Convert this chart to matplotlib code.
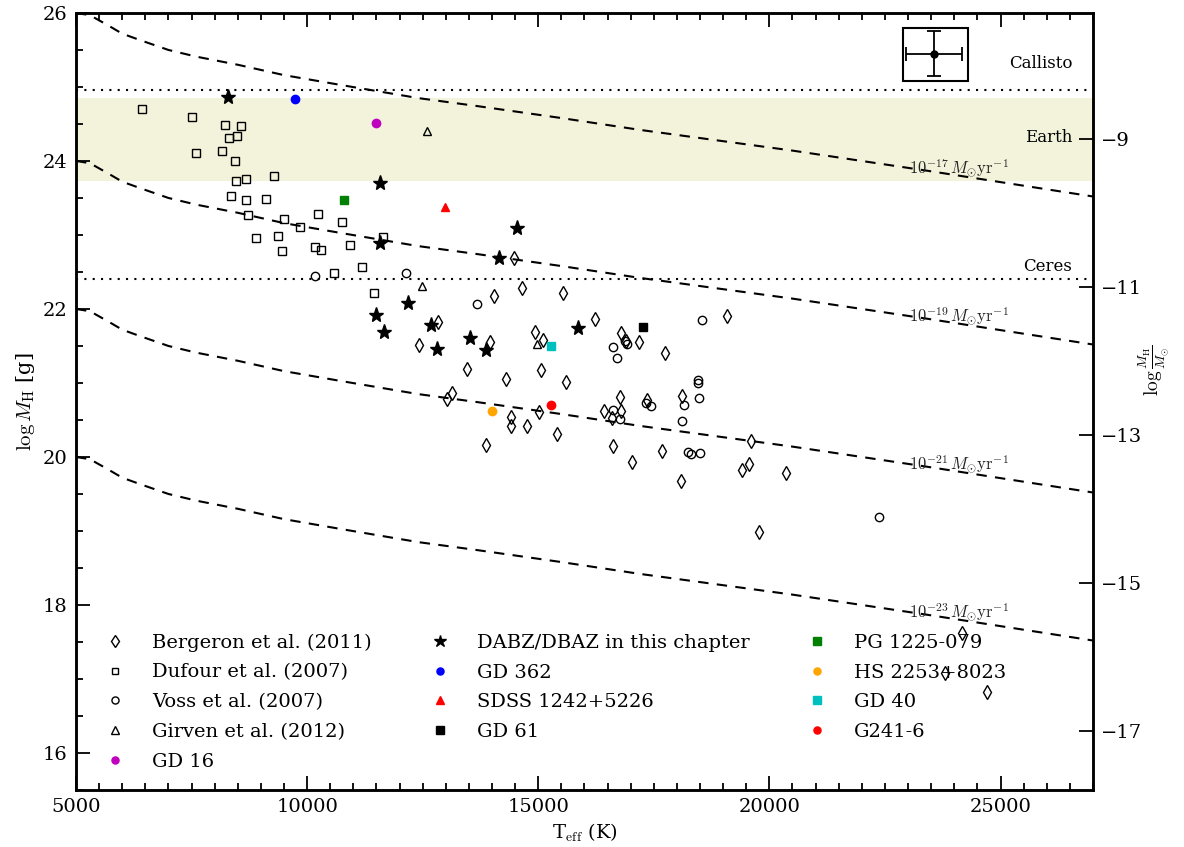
import matplotlib
matplotlib.use("Agg")
import matplotlib.pyplot as plt
import numpy as np
from matplotlib.patches import Rectangle
from matplotlib.ticker import MultipleLocator, FixedLocator

plt.rcParams['font.family'] = ['DejaVu Serif']
plt.rcParams['mathtext.fontset'] = 'cm'

LOG_MSUN = 33.3  # log10 of the solar mass in grams

# Bergeron et al. (2011)
berg_teff = [14480, 14640, 14040, 15530, 12830, 16220, 19080, 12430, 13960, 14920,
             15100, 16790, 16900, 17180, 17750, 13450, 15050, 14300, 15590, 13130,
             13020, 16770, 18110, 14420, 14400, 14760, 15400, 15010, 16430, 16790,
             16590, 17360, 13860, 16610, 19600, 17020, 17680, 18090, 19410, 19550,
             20350, 19770, 24160, 23810, 24700]
berg_logm = [22.69, 22.28, 22.18, 22.21, 21.82, 21.86, 21.90, 21.51, 21.55, 21.69,
             21.58, 21.68, 21.57, 21.55, 21.40, 21.19, 21.17, 21.05, 21.01, 20.87,
             20.78, 20.81, 20.82, 20.54, 20.42, 20.42, 20.31, 20.61, 20.62, 20.62,
             20.53, 20.77, 20.16, 20.15, 20.21, 19.93, 20.08, 19.67, 19.82, 19.90,
             19.78, 18.99, 17.62, 17.08, 16.82]

# Dufour et al. (2007)
dufour_teff = [6430, 7500, 8220, 8560, 8300, 8480, 7590, 8160, 8430, 8460,
               8670, 9280, 8360, 8670, 9120, 8730, 9510, 9850, 10230, 10750,
               8890, 9380, 9450, 10180, 10310, 10930, 11180, 10590, 11640, 11440]
dufour_logm = [24.70, 24.60, 24.48, 24.47, 24.31, 24.34, 24.11, 24.13, 24.00, 23.73,
               23.76, 23.80, 23.52, 23.47, 23.48, 23.27, 23.22, 23.11, 23.29, 23.18,
               22.96, 22.98, 22.78, 22.84, 22.80, 22.87, 22.57, 22.49, 22.97, 22.21]

# Voss et al. (2007)
voss_teff = [10180, 12130, 13680, 16620, 16710, 16880, 16910, 18550, 18450, 18460,
             18470, 17330, 17440, 18150, 18120, 16610, 16760, 18230, 18310, 18500,
             22380]
voss_logm = [22.44, 22.49, 22.07, 21.49, 21.34, 21.57, 21.53, 21.85, 21.04, 21.00,
             20.80, 20.73, 20.69, 20.70, 20.49, 20.63, 20.51, 20.07, 20.04, 20.06,
             19.19]

# Girven et al. (2012)
girven_teff = [12590, 12490, 14980]
girven_logm = [24.41, 22.31, 21.53]

# DABZ/DBAZ in this chapter
dabz_teff = [8290, 11570, 11570, 14540, 14140, 12190, 11480, 11670, 12670, 12820,
             13520, 13880, 15860]
dabz_logm = [24.87, 23.70, 22.89, 23.09, 22.69, 22.08, 21.92, 21.69, 21.79, 21.46,
             21.61, 21.44, 21.74]

# Individual objects: name, Teff, log M_H
single_names = ['GD 16', 'GD 362', 'SDSS 1242+5226', 'GD 61',
                'PG 1225-079', 'HS 2253+8023', 'GD 40', 'G241-6']
single_teff = [11490, 9730, 12990, 17260, 10790, 13990, 15280, 15280]
single_logm = [24.51, 24.84, 23.38, 21.76, 23.47, 20.62, 21.50, 20.70]
single_marker = ['o', 'o', '^', 's', 's', 'o', 's', 'o']
single_color = ['m', 'b', 'r', 'k', 'g', 'orange', 'c', 'r']

# Hydrogen mass accreted at 1e-17 Msun/yr as a function of Teff
curve_teff = [5000, 5300, 5700, 6000, 6400, 7000, 7600, 8500, 9500, 10700,
              12400, 13700, 15500, 17200, 20500, 23500, 27000]
curve_logm = [26.00, 25.97, 25.83, 25.72, 25.63, 25.50, 25.41, 25.30, 25.16, 25.03,
              24.85, 24.74, 24.58, 24.42, 24.14, 23.86, 23.52]
rate_exponents = [-17, -19, -21, -23]

# Reference hydrogen masses
callisto_logm = 24.96
ceres_logm = 22.41
earth_band = (23.73, 24.85)

# Typical uncertainty
err_teff, err_logm = 23560, 25.45
err_dteff, err_dlogm = 600, 0.30

fig = plt.figure(figsize=(11.84, 8.47), dpi=100)
ax = fig.add_axes([0.0642, 0.0673, 0.8589, 0.9174])
ax.set_xlim(5000, 27000)
ax.set_ylim(15.5, 26)

ax.axhspan(earth_band[0], earth_band[1], color='#f3f3dc', lw=0, zorder=0)
for lv in (callisto_logm, ceres_logm):
    ax.axhline(lv, color='k', ls=(0, (1, 3)), lw=1.5, zorder=1)

ct = np.array(curve_teff, dtype=float)
cm = np.array(curve_logm)
for r in rate_exponents:
    off = r + 17
    ax.plot(ct, cm + off, color='k', ls=(0, (5, 4)), lw=1.5, zorder=1)
    ty = np.interp(23020, ct, cm) + off - 0.07
    ax.text(23020, ty, r'$10^{%d}\,M_{\odot}{\rm yr}^{-1}$' % r,
            fontsize=12, ha='left', va='baseline', color='#222222', zorder=2)

ax.text(26550, 25.32, 'Callisto', ha='right', va='center', fontsize=12)
ax.text(26550, 24.32, 'Earth', ha='right', va='center', fontsize=12)
ax.text(26550, 22.58, 'Ceres', ha='right', va='center', fontsize=12)

open_kw = dict(ls='none', mfc='none', mec='k', mew=1.0, zorder=3)
handles = []
handles.append(ax.plot(berg_teff, berg_logm, marker='d', ms=7.5,
                       label='Bergeron et al. (2011)', **open_kw)[0])
handles.append(ax.plot(dufour_teff, dufour_logm, marker='s', ms=5.5,
                       label='Dufour et al. (2007)', **open_kw)[0])
handles.append(ax.plot(voss_teff, voss_logm, marker='o', ms=6,
                       label='Voss et al. (2007)', **open_kw)[0])
handles.append(ax.plot(girven_teff, girven_logm, marker='^', ms=6,
                       label='Girven et al. (2012)', **open_kw)[0])

single_handles = []
for name, t, m, mk, c in zip(single_names, single_teff, single_logm,
                             single_marker, single_color):
    h, = ax.plot([t], [m], ls='none', marker=mk, ms=6, color=c, mec=c,
                 label=name, zorder=4)
    single_handles.append(h)

star_h, = ax.plot(dabz_teff, dabz_logm, ls='none', marker='*', ms=11, color='k',
                  label='DABZ/DBAZ in this chapter', zorder=5)

order = handles + [single_handles[0], star_h] + single_handles[1:]

# typical error bar inset
ax.add_patch(Rectangle((22890, 25.08), 1400, 0.72, fill=False, ec='k', lw=1.5, zorder=5))
ax.errorbar([err_teff], [err_logm], xerr=[err_dteff], yerr=[err_dlogm], fmt='o',
            color='k', ms=5, capsize=5, elinewidth=1.3, capthick=1.3, zorder=6)

leg = ax.legend(handles=order, loc='lower left', bbox_to_anchor=(0.0116, 0.015),
                ncol=3, frameon=False, fontsize=14, markerscale=0.85,
                numpoints=1, handlelength=2.0, handletextpad=0.9,
                labelspacing=0.6, columnspacing=2.5, borderaxespad=0)

ax.xaxis.set_major_locator(MultipleLocator(5000))
ax.xaxis.set_minor_locator(MultipleLocator(500))
ax.yaxis.set_major_locator(MultipleLocator(2))
ax.yaxis.set_minor_locator(MultipleLocator(0.5))
ax.tick_params(which='both', direction='in', top=True, right=False,
               labelsize=14, width=1.3)
ax.tick_params(which='major', length=10, pad=6)
ax.tick_params(which='minor', length=5)
for s in ax.spines.values():
    s.set_linewidth(1.8)

ax.set_xlabel(r'T$_{\rm eff}$ (K)', fontsize=14)
ax.set_ylabel(r'$\log M_{\rm H}$ [g]', fontsize=15)

ax2 = ax.twinx()
ax2.set_ylim(15.5 - LOG_MSUN, 26 - LOG_MSUN)
ax2.yaxis.set_major_locator(FixedLocator([-9, -11, -13, -15, -17]))
ax2.yaxis.set_minor_locator(FixedLocator([]))
ax2.tick_params(which='both', direction='in', labelsize=14, length=10, width=1.3, pad=6)
ax2.set_ylabel(r'$\log\frac{M_{\rm H}}{M_{\odot}}$', fontsize=14)
ax2.yaxis.set_label_coords(1.043, 0.54)
for s in ax2.spines.values():
    s.set_linewidth(1.8)

fig.savefig('out.png', dpi=100)
